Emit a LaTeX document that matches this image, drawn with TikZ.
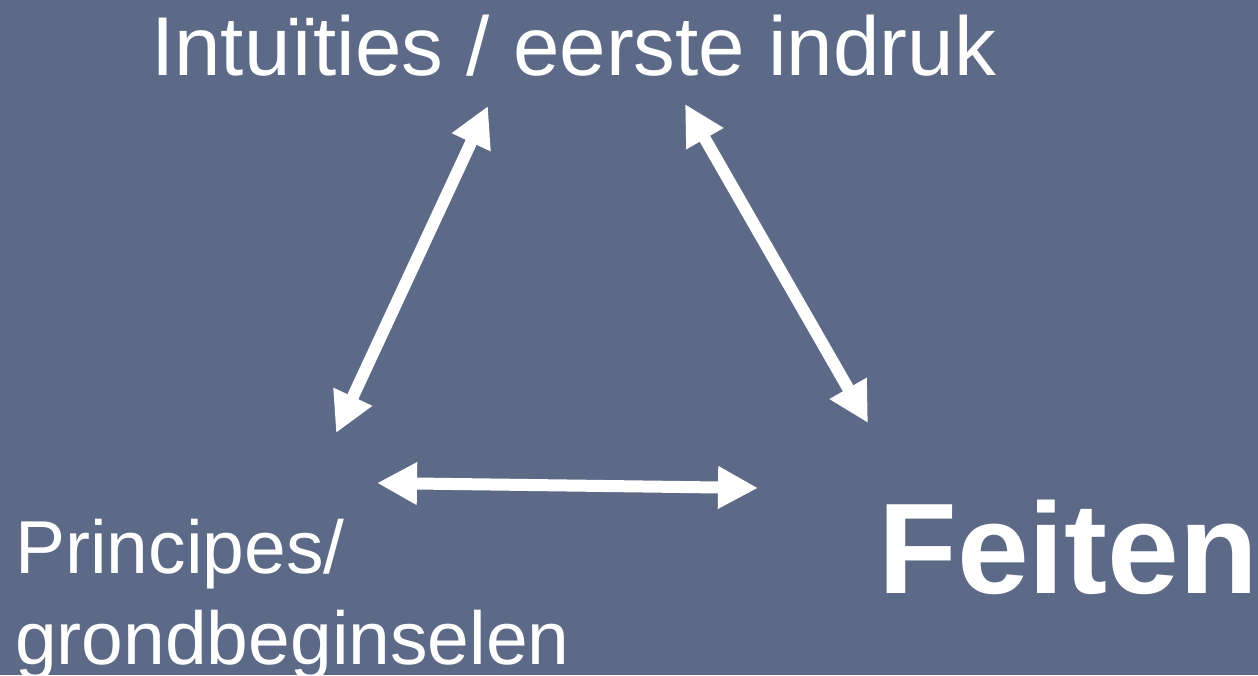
\documentclass[tikz,border=0pt]{standalone}
\usepackage{fontspec}
\setmainfont{Liberation Sans}
\usetikzlibrary{arrows.meta}
\definecolor{bg}{HTML}{5D6A87}
\begin{document}
\begin{tikzpicture}[x=1pt,y=-1pt,
  dblarrow/.style={white,line width=12pt,{Triangle[length=40pt,width=40pt]}-{Triangle[length=40pt,width=40pt]}},
  lbl/.style={text=white,inner sep=0pt,anchor=base west}]
\fill[bg] (0,0) rectangle (1258,675);
\useasboundingbox (0,0) rectangle (1258,675);
\node[lbl,font=\fontsize{83.5}{100}\selectfont] (top) at (151,75) {Intuïties / eerste indruk};
\node[lbl,font=\fontsize{75}{91}\selectfont] (p1) at (15,573) {Principes/};
\node[lbl,font=\fontsize{75}{91}\selectfont] (p2) at (15,664) {grondbeginselen};
\node[lbl,font=\fontsize{129}{150}\selectfont\bfseries] (feiten) at (878,593) {Feiten};
\coordinate (a1s) at (336,433);
\coordinate (a1e) at (488,106);
\coordinate (a2s) at (377,483);
\coordinate (a2e) at (758,488);
\coordinate (a3s) at (685,104);
\coordinate (a3e) at (868,423);
\draw[dblarrow] (a1s) -- (a1e);
\draw[dblarrow] (a2s) -- (a2e);
\draw[dblarrow] (a3s) -- (a3e);
\end{tikzpicture}
\end{document}
